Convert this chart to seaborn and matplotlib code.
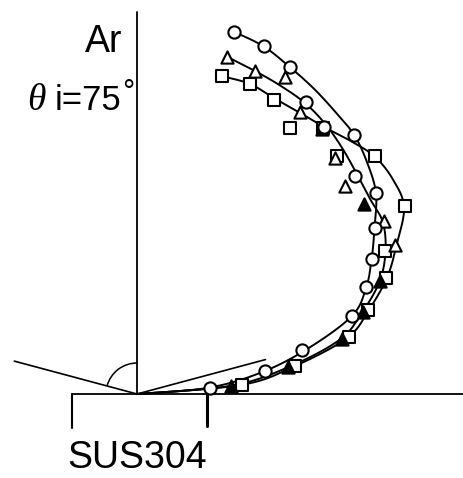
import numpy as np
import pandas as pd
import matplotlib
matplotlib.use("Agg")
import matplotlib.pyplot as plt
from matplotlib.patches import Arc
import seaborn as sns

# ---- data (polar: angle from surface normal in degrees, yield in arbitrary units) ----
angles = [15, 20, 25, 30, 35, 40, 45, 50, 55, 60, 65, 70, 75, 80, 85]
r_circle = [3.75, 3.70, 3.61, 3.37, 3.26, 3.38, 3.08, 3.12, 2.90, 2.71, 2.53, 2.29, 1.71, 1.30, 0.73]
r_triangle = [3.49, 3.44, 3.50, 3.26, 3.23, 3.08, 2.94, 2.96, 3.02, 2.98, 2.68, 2.40, 2.12, 1.53, 0.94]
r_square = [3.29, 3.30, 3.24, 3.07, 3.25, 3.11, 3.37, np.nan, 3.27, 2.86, 2.75, 2.46, 2.19, 1.60, 1.05]

# fitted curves drawn in the figure
fit_angles = [15, 20, 25, 30, 35, 40, 45, 50, 55, 60, 65, 70, 75, 80, 85, 90]
fit_circle = [3.75, 3.70, 3.61, 3.53, 3.45, 3.38, 3.26, 3.12, 2.90, 2.71, 2.53, 2.29, 1.78, 1.28, 0.72, 0.0]
fit_triangle = [3.49, 3.44, 3.40, 3.36, 3.29, 3.20, 3.11, 3.04, 3.00, 2.87, 2.68, 2.40, 2.10, 1.53, 0.94, 0.0]
fit_square = [3.29, 3.30, 3.26, 3.25, 3.26, 3.31, 3.36, 3.34, 3.26, 3.00, 2.76, 2.47, 2.18, 1.60, 1.05, 0.0]

incidence_angle = 75
target_label = "SUS304"
ion_label = "Ar"

# triangles that appear filled (overlapping) in the original
filled_triangle_angles = [35, 50, 65, 70, 75, 80, 85]


def to_xy(ang, r):
    a = np.deg2rad(np.asarray(ang, float))
    r = np.asarray(r, float)
    return r * np.sin(a), r * np.cos(a)


def catmull_rom(x, y, n=24):
    P = np.column_stack([x, y])
    P = np.vstack([P[0], P, P[-1]])
    out = []
    for i in range(1, len(P) - 2):
        p0, p1, p2, p3 = P[i - 1], P[i], P[i + 1], P[i + 2]
        t = np.linspace(0, 1, n, endpoint=False)[:, None]
        pts = 0.5 * ((2 * p1) + (-p0 + p2) * t + (2 * p0 - 5 * p1 + 4 * p2 - p3) * t ** 2
                     + (-p0 + 3 * p1 - 3 * p2 + p3) * t ** 3)
        out.append(pts)
    out.append(P[-2][None, :])
    out = np.vstack(out)
    return out[:, 0], out[:, 1]


sns.set_style("white")
plt.rcParams['font.family'] = ['Liberation Sans', 'DejaVu Sans']
plt.rcParams['text.color'] = 'black'

fig = plt.figure(figsize=(4.64, 4.78), dpi=100)
ax = fig.add_axes([0, 0, 1, 1])
ax.set_xlim(-1.37, 3.27)
ax.set_ylim(-0.84, 3.94)
ax.set_axis_off()

lw = 1.4
# curves
for fr in (fit_circle, fit_triangle, fit_square):
    cx, cy = to_xy(fit_angles, fr)
    sx, sy = catmull_rom(cx, cy)
    df = pd.DataFrame({"x": sx, "y": sy, "o": np.arange(len(sx))})
    sns.lineplot(data=df, x="x", y="y", sort=False, estimator=None, color="black",
                 linewidth=lw, ax=ax, zorder=2)

# markers
msize = 8.8
mew = 1.5
for rr, mk in ((r_square, "s"), (r_triangle, "^"), (r_circle, "o")):
    x, y = to_xy(angles, rr)
    d = pd.DataFrame({"x": x, "y": y, "ang": angles}).dropna()
    if mk == "^":
        d_f = d[d["ang"].isin(filled_triangle_angles)]
        d_o = d[~d["ang"].isin(filled_triangle_angles)]
        sns.scatterplot(data=d_o, x="x", y="y", marker=mk, s=msize ** 2, facecolor="white",
                        edgecolor="black", linewidth=mew, ax=ax, zorder=3)
        sns.scatterplot(data=d_f, x="x", y="y", marker=mk, s=msize ** 2, facecolor="black",
                        edgecolor="black", linewidth=mew, ax=ax, zorder=3)
    else:
        sns.scatterplot(data=d, x="x", y="y", marker=mk, s=msize ** 2, facecolor="white",
                        edgecolor="black", linewidth=mew, ax=ax, zorder=3)

# geometry: normal, surface, target block, incident and specular directions
ax.plot([0, 0], [0, 3.82], color="black", lw=1.3, zorder=1)
ax.plot([-0.65, 3.27], [0, 0], color="black", lw=1.3, zorder=1)
ax.plot([-0.65, -0.65], [0, -0.34], color="black", lw=1.5)
ax.plot([0.70, 0.70], [0, -0.32], color="black", lw=2.2)
inc = np.deg2rad(incidence_angle)
L_in = 1.27
ax.plot([-L_in * np.sin(inc), 0], [L_in * np.cos(inc), 0], color="black", lw=1.2)
L_sp = 1.33
ax.plot([0, L_sp * np.sin(inc)], [0, L_sp * np.cos(inc)], color="black", lw=1.2)
ax.add_patch(Arc((0, 0), 0.62, 0.62, theta1=90, theta2=90 + incidence_angle,
                 color="black", lw=1.1))

# texts
fs = 27
ax.text(-0.15, 3.42, ion_label, fontsize=fs, ha="right", va="baseline", color="black")
ax.text(-1.10, 2.84, "θ", fontsize=fs, ha="left", va="baseline", color="black",
        family=["Liberation Serif", "DejaVu Serif"], style="italic")
ax.text(-0.16, 2.84, f"i={incidence_angle}", fontsize=25, ha="right", va="baseline", color="black")
ax.text(-0.15, 2.93, "°", fontsize=22, ha="left", va="baseline", color="black")
ax.text(-0.70, -0.74, target_label, fontsize=fs, ha="left", va="baseline", color="black")

fig.savefig("out.png", dpi=100, facecolor="white")
